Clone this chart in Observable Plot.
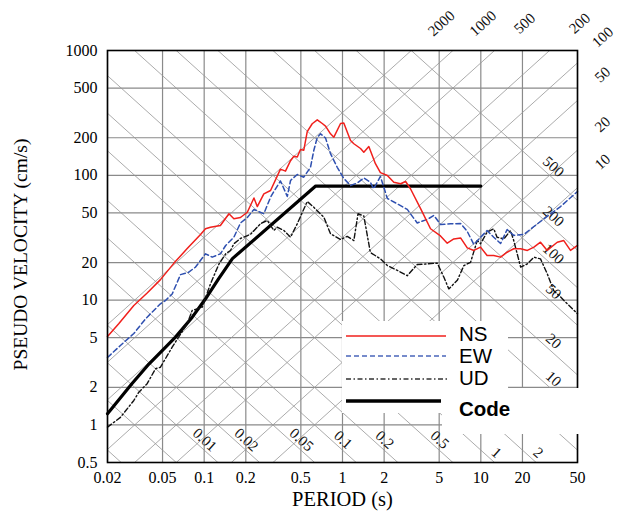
<!DOCTYPE html>
<html><head><meta charset="utf-8">
<script src="https://cdn.jsdelivr.net/npm/d3@7"></script>
<script src="https://cdn.jsdelivr.net/npm/@observablehq/plot@0.6"></script>
<style>
body{margin:0;background:#fff}
#wrap{position:relative;width:618px;height:512px;overflow:hidden}
</style></head><body><div id="wrap"></div>
<script>
// Axis ticks
const periodTicks = [0.02,0.05,0.1,0.2,0.5,1,2,5,10,20,50];
const velocityTicks = [0.5,1,2,5,10,20,50,100,200,500,1000];
// Tripartite grid values: displacement (cm) and acceleration (gal)
const dispLines = [0.002,0.005,0.01,0.02,0.05,0.1,0.2,0.5,1,2,5,10,20,50,100,200,500];
const accLines = [10,20,50,100,200,500,1000,2000];
const dispLabelsBottom = [0.01,0.02,0.05,0.1,0.2,0.5];
const dispLabelsBottom2 = [1,2];
const dispLabelsRight = [500,200,100,50,20,10];
const accLabelsTop = [2000,1000,500,200];
const accLabelsRight = [100,50,20,10];

// Spectra (period s, pseudo velocity cm/s)
const nsT = [0.02,0.0241,0.031,0.0387,0.0483,0.0603,0.0754,0.0941,0.1022,0.111,0.131,0.151,0.164,0.183,0.205,0.229,0.242,0.270,0.302,0.356,0.387,0.421,0.445,0.471,0.497,0.525,0.556,0.604,0.657,0.714,0.754,0.819,0.866,0.968,1.022,1.082,1.143,1.208,1.35,1.426,1.55,1.73,1.88,2.11,2.35,2.63,2.86,3.10,3.67,4.33,5.11,5.72,6.38,7.14,7.98,8.91,9.95,11.1,12.4,13.9,15.5,17.3,19.4,21.7,24.2,27.0,30.2,35.7,39.8,44.5,50];
const nsV = [5.1,6.46,9.06,11.4,14.6,19.7,25.9,33.6,37.3,38.4,39.6,49.2,44.8,45.9,50.6,65.8,56.2,71.1,75.6,112,108,131,142,140,161,159,224,259,278,260,248,215,202,260,262,222,190,179,164,153,170,124,105,99.7,88.1,85.5,89.2,78,54,37.3,32.7,28.6,30.9,31.5,26.2,25,26.6,22.8,22.8,22.1,24.2,25.8,25.8,25,26.6,29.1,25,29.1,30,25,27.4];
const ewT = [0.02,0.0248,0.031,0.0377,0.0483,0.0525,0.0587,0.0674,0.0770,0.0866,0.1022,0.1143,0.131,0.143,0.164,0.183,0.205,0.229,0.247,0.270,0.302,0.319,0.356,0.399,0.421,0.471,0.525,0.587,0.620,0.657,0.694,0.754,0.819,0.916,1.022,1.143,1.278,1.426,1.59,1.68,1.88,2.11,2.49,2.94,3.47,4.10,4.58,5.11,6.04,7.14,7.98,8.91,9.95,11.1,12.4,13.9,15.5,17.3,20.5,24.2,30.2,37.7,50];
const ewV = [3.47,4.33,5.4,7.09,9.35,9.93,11.2,16.0,16.7,18.4,23.5,22.1,23.5,27.4,31.9,41.5,45.9,53.3,51.3,49.2,66.8,74.2,90.1,67.7,90.9,101.6,96.6,116,158,201,215,199,149,116,94.3,82.9,86.8,95.2,88.1,78,97.9,65.2,59.1,53.3,41.5,44.3,47.7,40.4,40.9,41.1,35.5,27.9,31.9,36.1,31.9,28.4,36.8,33,33.6,38.9,46.8,56.2,74.2];
const udT = [0.02,0.0248,0.031,0.0337,0.0387,0.0445,0.0483,0.0587,0.0754,0.0819,0.0968,0.111,0.128,0.143,0.155,0.164,0.183,0.216,0.255,0.286,0.319,0.337,0.377,0.421,0.471,0.556,0.620,0.733,0.819,0.968,1.082,1.208,1.295,1.426,1.59,1.88,2.11,2.49,2.94,3.47,4.10,4.84,5.40,5.87,6.76,7.54,8.43,9.42,9.95,11.1,12.4,13.1,14.7,16.4,17.3,19.4,21.7,24.2,27.0,30.2,33.7,37.7,42.2,50];
const udV = [0.96,1.15,1.57,1.83,2.14,2.82,2.9,4.2,6.46,8.26,8.78,13.5,19.5,23.5,25,28.3,31.2,33.6,40.9,43.5,36.1,38.4,36.1,31.9,40.9,61.7,55.5,46.2,34,30.6,32.4,30,49.2,47.2,24.1,21.4,18.9,17.3,15.7,19.3,19.5,19.8,15.3,12.3,14.4,18.9,20.1,30,28.3,35,37.3,31.9,31,36.1,30,18.4,19.5,22.1,21.4,16.3,11.9,10.6,9.35,7.77];
const codeT = [0.02,0.03,0.04,0.062,0.082,0.102,0.127,0.16,0.64,10];
const codeV = [1.23,2.14,3.09,5.05,7.3,10.2,14.8,21.5,82,82];

const series = ["NS","EW","UD","Code"];
const seriesColor = {NS:"#f0201c", EW:"#2f50b0", UD:"#111111", Code:"#000000"};

const W = 2*Math.PI;
const toRows = (T, V) => T.map((t,i)=>({T:t, V:V[i]}));
const ns = toRows(nsT, nsV), ew = toRows(ewT, ewV), ud = toRows(udT, udV), code = toRows(codeT, codeV);

const Tmin = periodTicks[0], Tmax = periodTicks[periodTicks.length-1];
const dispRows = dispLines.flatMap(D => [Tmin, Tmax].map(T => ({D, T, V: W*D/T})));
const accRows = accLines.flatMap(A => [Tmin, Tmax].map(T => ({A, T, V: A*T/W})));

const diagStyle = {stroke:"#969696", strokeWidth:0.8, clip:true};
const lblFont = {fontFamily:"Liberation Serif", fontSize:15, fill:"#111"};

const chart = Plot.plot({
  width: 618, height: 512,
  marginLeft: 107, marginRight: 41, marginTop: 50, marginBottom: 50,
  x: {type:"log", domain:[0.02,50], axis:null},
  y: {type:"log", domain:[0.5,1000], axis:null},
  style: {fontFamily:"Liberation Serif", fontSize:"16px", color:"#000", background:"transparent", overflow:"visible"},
  marks: [
    Plot.ruleX(periodTicks, {stroke:"#8a8a8a", strokeWidth:1.2}),
    Plot.ruleY(velocityTicks, {stroke:"#8a8a8a", strokeWidth:1.2}),
    Plot.line(dispRows, {x:"T", y:"V", z:"D", ...diagStyle}),
    Plot.line(accRows, {x:"T", y:"V", z:"A", ...diagStyle}),
    // grid labels
    Plot.text(dispLabelsBottom, {x: d => W*d/0.76, y: () => 0.76, text: d => String(d), rotate: 42, dx: 12, ...lblFont}),
    Plot.text(dispLabelsBottom2, {x: d => W*d/0.6, y: () => 0.6, text: d => String(d), rotate: 42, dx: 13, ...lblFont}),
    Plot.text(dispLabelsRight, {x: () => 33.5, y: d => W*d/33.5, text: d => String(d), rotate: 42, dy: -12, ...lblFont}),
    Plot.text(accLabelsTop, {x: d => W*1650/d, y: () => 1650, text: d => String(d), rotate: -42, ...lblFont}),
    Plot.text(accLabelsRight, {x: () => 76, y: d => d*76/W, text: d => String(d), rotate: -42, dy: -3, ...lblFont}),
    // spectra
    Plot.line(code, {x:"T", y:"V", stroke: seriesColor.Code, strokeWidth: 3.2}),
    Plot.line(ud, {x:"T", y:"V", stroke: seriesColor.UD, strokeWidth: 1.4, strokeDasharray:"5,2.5,1.5,2.5"}),
    Plot.line(ew, {x:"T", y:"V", stroke: seriesColor.EW, strokeWidth: 1.5, strokeDasharray:"5,3"}),
    Plot.line(ns, {x:"T", y:"V", stroke: seriesColor.NS, strokeWidth: 1.5}),
    Plot.frame({stroke:"#000", strokeWidth:1.6}),
    // tick labels
    Plot.text(periodTicks, {x: d => d, frameAnchor:"bottom", lineAnchor:"middle", textAnchor:"middle", dy: 15, text: d => String(d), fontSize: 16}),
    Plot.text(velocityTicks, {y: d => d, frameAnchor:"left", lineAnchor:"middle", textAnchor:"end", dx: -10, text: d => String(d), fontSize: 16}),
    // axis titles
    Plot.text(["PSEUDO VELOCITY (cm/s)"], {frameAnchor:"left", textAnchor:"middle", lineAnchor:"middle", dx:-87, dy:-2, rotate:-90, fontSize:19.5}),
    Plot.text(["PERIOD (s)"], {frameAnchor:"bottom", textAnchor:"middle", lineAnchor:"middle", dy:37, fontSize:20.5})
  ]
});
const wrap = document.getElementById("wrap");
wrap.appendChild(chart);

// Legend overlay (drawn on top of the grid, like the original)
const leg = d3.select(wrap).append("svg")
  .attr("width", 618).attr("height", 512)
  .style("position","absolute").style("left","0px").style("top","0px");
leg.append("rect").attr("x",342).attr("y",321).attr("width",166).attr("height",92).attr("fill","#fff");
leg.append("rect").attr("x",442).attr("y",388).attr("width",176).attr("height",46).attr("fill","#fff");
const legRows = [
  {name:"NS", y:336, ty:341, stroke:seriesColor.NS, w:1.5, dash:null, x2:446, bold:false},
  {name:"EW", y:356, ty:363, stroke:"#4a66bb", w:1.5, dash:"5,3", x2:446, bold:false},
  {name:"UD", y:379, ty:385, stroke:"#333", w:1.4, dash:"5,2.5,1.5,2.5", x2:447, bold:false},
  {name:"Code", y:401, ty:416, stroke:"#000", w:3.6, dash:null, x2:441, bold:true}
];
for (const r of legRows) {
  leg.append("line").attr("x1",346).attr("x2",r.x2).attr("y1",r.y).attr("y2",r.y)
    .attr("stroke",r.stroke).attr("stroke-width",r.w).attr("stroke-dasharray",r.dash);
  leg.append("text").attr("x",459).attr("y",r.ty).text(r.name)
    .attr("font-family","Liberation Sans, Arial, sans-serif").attr("font-size",20.5)
    .attr("font-weight", r.bold ? "bold" : "normal").attr("fill","#000");
}
</script></body></html>
